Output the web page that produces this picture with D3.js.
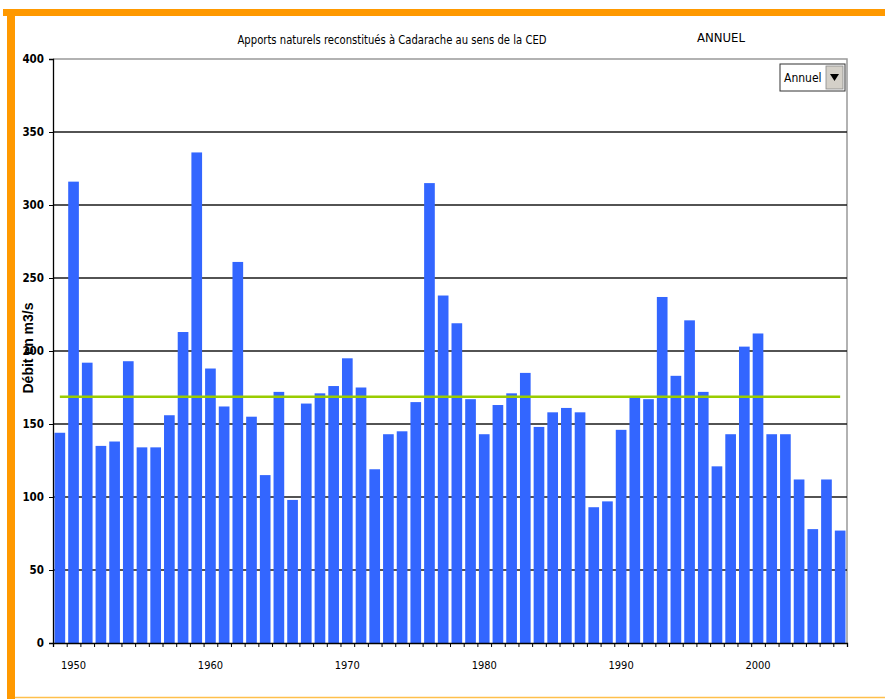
<!DOCTYPE html>
<html>
<head>
    <meta charset="utf-8">
    <script src="https://d3js.org/d3.v7.min.js"></script>
    <style>
        body { margin: 0; background: #fff; }
        .narrow { font-family: 'Liberation Sans Narrow', 'Arial Narrow', 'DejaVu Sans Condensed', sans-serif; }
        .y-axis text { font-weight: bold; font-size: 11.5px; }
        .x-axis text { font-size: 11px; }
    </style>
</head>
<body>
<div id="chart"></div>

<script>
    // annual natural inflows at Cadarache, 1949-2006 (m3/s)
    var years = d3.range(1949, 2007);
    var debits = [144, 316, 192, 135, 138, 193, 134, 134, 156, 213,
                  336, 188, 162, 261, 155, 115, 172, 98, 164, 171,
                  176, 195, 175, 119, 143, 145, 165, 315, 238, 219,
                  167, 143, 163, 171, 185, 148, 158, 161, 158, 93,
                  97, 146, 168, 167, 237, 183, 221, 172, 121, 143,
                  203, 212, 143, 143, 112, 78, 112, 77];
    var moyenne = 168.6;
    var yTicks = [0, 50, 100, 150, 200, 250, 300, 350, 400];
    var xLabels = [1950, 1960, 1970, 1980, 1990, 2000];

    var W = 885, H = 699;
    var plotLeft = 53, plotRight = 847, plotTop = 59, plotBottom = 643;

    var svg = d3.select("#chart").append("svg")
        .attr("width", W)
        .attr("height", H);

    svg.append("rect").attr("width", W).attr("height", H).attr("fill", "#fff");

    // orange frame
    svg.append("rect").attr("x", 3).attr("y", 9).attr("width", W - 3).attr("height", 7).attr("fill", "#ff9900");
    svg.append("rect").attr("x", 7).attr("y", 9).attr("width", 8).attr("height", H - 9).attr("fill", "#ff9900");
    svg.append("line").attr("x1", 15).attr("x2", W).attr("y1", 697.5).attr("y2", 697.5)
        .attr("stroke", "#ffc04d").attr("stroke-width", 1.5);

    var x = d3.scaleBand().domain(years).range([plotLeft, plotRight]).paddingInner(0.22).paddingOuter(0.11);
    var xEdge = d3.scaleLinear().domain([1949, 2007]).range([plotLeft, plotRight]);
    var y = d3.scaleLinear().domain([0, 400]).range([plotBottom, plotTop]);

    // plot frame (top + right, grey)
    svg.append("path")
        .attr("d", "M" + plotLeft + "," + y(400) + "H" + plotRight + "V" + plotBottom)
        .attr("fill", "none").attr("stroke", "#999").attr("stroke-width", 1.5);

    // gridlines
    svg.append("g").selectAll("line")
        .data(yTicks.filter(d => d > 0 && d < 400))
        .join("line")
        .attr("x1", plotLeft).attr("x2", plotRight)
        .attr("y1", d => y(d)).attr("y2", d => y(d))
        .attr("stroke", "#1a1a1a").attr("stroke-width", 1.5);

    // bars
    svg.append("g").selectAll("rect")
        .data(years)
        .join("rect")
        .attr("x", (d) => x(d))
        .attr("width", x.bandwidth())
        .attr("y", (d, i) => y(debits[i]))
        .attr("height", (d, i) => y(0) - y(debits[i]))
        .attr("fill", "#3366ff");

    // mean line
    svg.append("line")
        .attr("x1", x(years[0]) + x.bandwidth() / 2)
        .attr("x2", x(years[years.length - 1]) + x.bandwidth() / 2)
        .attr("y1", y(moyenne)).attr("y2", y(moyenne))
        .attr("stroke", "#99cc00").attr("stroke-width", 2.5);

    // y axis
    var yAxis = svg.append("g")
        .attr("class", "y-axis narrow")
        .attr("transform", "translate(" + plotLeft + ",0)")
        .call(d3.axisLeft(y).tickValues(yTicks).tickSize(4).tickPadding(5));
    yAxis.selectAll("text").attr("fill", "#000");
    yAxis.selectAll("line, path").attr("stroke", "#000");
    yAxis.select(".domain").attr("stroke-width", 1.3);

    // x axis: ticks between years, labels every ten years
    var xTicks = svg.append("g")
        .attr("transform", "translate(0," + plotBottom + ")")
        .call(d3.axisBottom(xEdge).tickValues(d3.range(1949, 2008)).tickSize(4).tickFormat(""));
    xTicks.selectAll("line, path").attr("stroke", "#000");
    xTicks.select(".domain").attr("stroke-width", 1.3);

    var xAxis = svg.append("g")
        .attr("class", "x-axis narrow")
        .attr("transform", "translate(0," + plotBottom + ")")
        .call(d3.axisBottom(x).tickValues(xLabels).tickSize(0).tickPadding(18));
    xAxis.select(".domain").remove();
    xAxis.selectAll("text").attr("fill", "#000");

    // axis title
    svg.append("text")
        .attr("transform", "translate(33,348) rotate(-90)")
        .attr("text-anchor", "middle")
        .attr("font-family", "'Liberation Sans', Arial, sans-serif")
        .attr("font-weight", "bold")
        .attr("font-size", 14)
        .text("Débit en m3/s");

    // titles
    svg.append("text")
        .attr("class", "narrow")
        .attr("x", 392).attr("y", 44)
        .attr("text-anchor", "middle")
        .attr("font-size", 12)
        .attr("textLength", 309)
        .attr("lengthAdjust", "spacingAndGlyphs")
        .text("Apports naturels reconstitués à Cadarache au sens de la CED");

    svg.append("text")
        .attr("class", "narrow")
        .attr("x", 721).attr("y", 42)
        .attr("text-anchor", "middle")
        .attr("font-size", 13)
        .text("ANNUEL");

    // dropdown
    var dd = svg.append("g").attr("transform", "translate(780,64)");
    dd.append("rect").attr("width", 65).attr("height", 27).attr("fill", "#fff")
        .attr("stroke", "#333").attr("stroke-width", 1);
    dd.append("rect").attr("x", 46).attr("y", 2).attr("width", 17).attr("height", 23)
        .attr("fill", "#d4d0c8").attr("stroke", "#888").attr("stroke-width", 0.8);
    dd.append("path").attr("d", "M50,10 L59,10 L54.5,17 Z").attr("fill", "#000");
    dd.append("text").attr("class", "narrow")
        .attr("x", 4).attr("y", 18)
        .attr("font-size", 12)
        .text("Annuel");
</script>
</body>
</html>
